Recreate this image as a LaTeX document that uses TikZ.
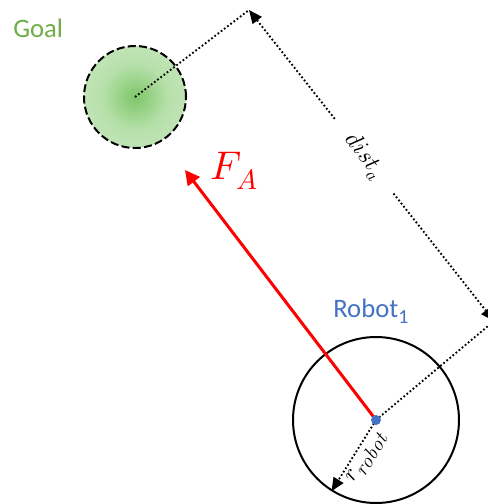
\documentclass[tikz,border=0pt]{standalone}
\usepackage{fontspec}
\usepackage{unicode-math}
\setmathfont{Latin Modern Math}
\newfontfamily\calibri{Carlito}
\usetikzlibrary{arrows.meta,calc}
\definecolor{goalgreen}{HTML}{70AD47}
\definecolor{robotblue}{HTML}{4472C4}
\definecolor{goalin}{RGB}{126,198,104}
\definecolor{goalmid}{RGB}{182,224,170}
\definecolor{goalout}{RGB}{220,239,214}
\pgfdeclareradialshading{goalshade}{\pgfpoint{0bp}{0bp}}{color(0bp)=(goalin); color(16bp)=(goalmid); color(50bp)=(goalout)}
\tikzset{tipdim/.tip={Triangle[length=10pt,width=8.5pt]}}
\begin{document}
\begin{tikzpicture}[x=0.75pt,y=-0.75pt,
  dots/.style={line width=1.4pt, dash pattern=on 1.3pt off 1.7pt},
  lab/.style={inner sep=0pt}]
\clip (0,0) rectangle (488,504);
% goal
\node[circle, draw, line width=1.5pt, dash pattern=on 6pt off 2.5pt, minimum size=76.5pt, inner sep=0pt, shading=goalshade] (goal) at (135,97) {};
\node[lab, text=goalgreen, font=\calibri\fontsize{20}{24}\selectfont, anchor=base west] (goallabel) at (13,37) {Goal};
% robot
\node[circle, draw, line width=1.5pt, minimum size=124.5pt, inner sep=0pt] (robot) at (376,420) {};
\node[lab, text=robotblue, font=\calibri\fontsize{20}{24}\selectfont, anchor=base west] (robotlabel) at (333,317) {Robot\raisebox{-4.5pt}{\fontsize{15}{15}\selectfont 1}};
% dimension
\coordinate (dimA) at (249,10);
\coordinate (dimB) at (494,321);
\coordinate (fa) at (185,170);
\draw[dots] (goal.center) -- (dimA);
\draw[dots] (robot.center) -- (dimB);
\draw[dots, tipdim-] (dimA) -- ($(dimA)!0.352!(dimB)$);
\draw[dots, -tipdim] ($(dimA)!0.59!(dimB)$) -- (dimB);
\node[lab, rotate=-52, font=\fontsize{18}{18}\selectfont] (distlabel) at ($(dimA)!0.47!(dimB)$) {$dist_a$};
% radius
\draw[dots, -tipdim] (robot.center) -- (robot.238);
\node[lab, rotate=58, font=\fontsize{17}{17}\selectfont] (rlabel) at (367,458) {$r_{\scalebox{0.9}{$\mathit{robot}$}}$};
% force
\draw[red, line width=2.25pt, -{Triangle[length=11pt,width=11pt]}] (robot.center) -- (fa);
\node[lab, text=red, font=\fontsize{30}{30}\selectfont] (falabel) at (234,171) {$F_A$};
\node[circle, fill=robotblue, minimum size=7.5pt, inner sep=0pt] (dot) at (robot.center) {};
\end{tikzpicture}
\end{document}
